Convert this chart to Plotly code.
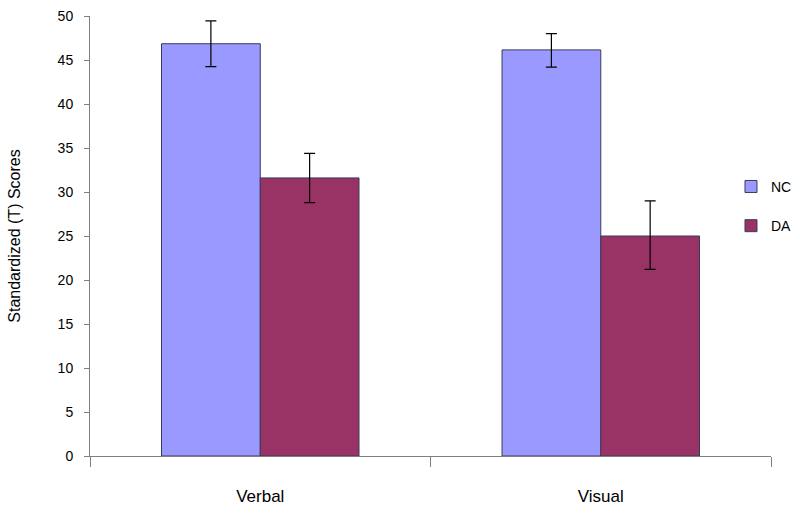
import plotly.graph_objects as go

categories = ["Verbal", "Visual"]
series_names = ["NC", "DA"]
nc_values = [46.85, 46.15]
nc_err_plus = [2.6, 1.85]
nc_err_minus = [2.6, 1.95]
da_values = [31.6, 25.0]
da_err_plus = [2.8, 4.0]
da_err_minus = [2.8, 3.8]
colors = ["#9999FF", "#993366"]

fig = go.Figure()
for name, vals, ep, em, col in [
    (series_names[0], nc_values, nc_err_plus, nc_err_minus, colors[0]),
    (series_names[1], da_values, da_err_plus, da_err_minus, colors[1]),
]:
    fig.add_trace(go.Bar(
        x=categories, y=vals, name=name, legendgroup=name,
        marker=dict(color=col, line=dict(color="#3a3a5a", width=1)),
        error_y=dict(type="data", symmetric=False, array=ep, arrayminus=em,
                     color="black", thickness=1.2, width=5.5),
    ))

fig.update_layout(
    width=800, height=514,
    margin=dict(l=90, r=0, t=16, b=58),
    paper_bgcolor="white", plot_bgcolor="white",
    font=dict(family="Liberation Sans, Arial, sans-serif", size=14, color="black"),
    barmode="group", bargap=0.42, bargroupgap=0,
    showlegend=True,
    legend=dict(x=0.9028, xanchor="left", y=0.648, yanchor="top",
                traceorder="grouped", tracegroupgap=18,
                font=dict(size=14), bgcolor="rgba(0,0,0,0)"),
)
fig.update_xaxes(
    domain=[0, 0.9592],
    showline=True, linecolor="#808080", linewidth=1, automargin=False,
    ticks="outside", tickson="boundaries", ticklen=10, tickcolor="#808080",
    ticklabelstandoff=25, showgrid=False, tickfont=dict(size=17),
)
fig.update_yaxes(
    range=[0, 50], dtick=5, showline=True, linecolor="#808080", linewidth=1,
    automargin=False, tickfont=dict(size=14), ticklabelstandoff=8,
    ticks="outside", ticklen=5, tickcolor="#808080", showgrid=False, zeroline=False,
    title=dict(text="Standardized (T) Scores", standoff=33, font=dict(size=16)),
)

fig.write_html(
    "out.html",
    config={"displayModeBar": False},
    post_script="document.body.style.margin='0';document.body.style.overflow='hidden';",
)
